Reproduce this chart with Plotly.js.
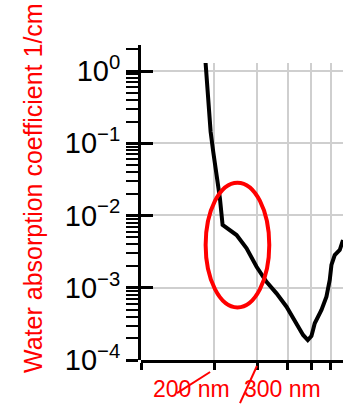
<!DOCTYPE html>
<html>
<head>
<meta charset="utf-8">
<script src="https://cdn.plot.ly/plotly-3.0.1.min.js"></script>
<style>
  html, body { margin: 0; padding: 0; background: #ffffff; }
  #chart { width: 357px; height: 404px; }
</style>
</head>
<body>
<div id="chart"></div>
<script>
// Absorption spectrum of liquid water, 1/cm, against wavelength in nm
const wavelengthNm = [184, 186, 188.7, 193.1, 197.9, 204.3, 210.8, 216.2, 225.8, 246.7,
  271.2, 298.1, 327.4, 359.8, 395.5, 434.6, 462.6, 483.6, 500.6, 508.2,
  516.5, 550.4, 576.9, 595.2, 604.8, 623.9, 654.1, 674.6];
const absorption = [1.33, 0.75, 0.338, 0.1445, 0.0764, 0.0364, 0.0173, 0.00739, 0.00665, 0.00537,
  0.00351, 0.00195, 0.00121, 0.000837, 0.000547, 0.000322, 0.000222, 0.000189, 0.000215, 0.00026,
  0.000322, 0.000492, 0.000752, 0.00128, 0.00207, 0.00284, 0.00333, 0.00458];

// Axis ticks
const xGridNm = [100, 200, 300, 400, 500, 600];
const yDecades = [1, 0.1, 0.01, 0.001, 0.0001];
const yDecadeLabels = ['10<sup>0</sup>', '10<sup>\u22121</sup>', '10<sup>\u22122</sup>',
  '10<sup>\u22123</sup>', '10<sup>\u22124</sup>'];

// Texts
const yTitle = 'Water absorption coefficient 1/cm';
const markLabels = ['200 nm', '300 nm'];

const red = '#ff0000';
const labelFont = { family: 'Liberation Sans, Arial, sans-serif', size: 29, color: '#000000' };

const xRange = [2, Math.log10(674.6)];
const yTop = 0.111;       // top of the gridded data area, log10 units
const yAxisTop = 0.36;    // top of the drawn axis line, log10 units
const gridTop = (yTop + 4) / (yAxisTop + 4);

const traces = [
  {
    x: wavelengthNm, y: absorption, xaxis: 'x', yaxis: 'y',
    type: 'scatter', mode: 'lines',
    line: { color: '#000000', width: 4 },
    hoverinfo: 'skip', showlegend: false
  },
  // carriers for the labelled axis and the inner half of its decade ticks
  { x: [], y: [], xaxis: 'x2', yaxis: 'y2', type: 'scatter', showlegend: false, hoverinfo: 'skip' },
  { x: [], y: [], xaxis: 'x2', yaxis: 'y3', type: 'scatter', showlegend: false, hoverinfo: 'skip' }
];

const layout = {
  width: 357, height: 404,
  margin: { l: 141, r: 14, t: 45, b: 44, pad: 0 },
  paper_bgcolor: '#ffffff', plot_bgcolor: 'rgba(0,0,0,0)',
  showlegend: false,
  xaxis: {
    type: 'log', range: xRange,
    domain: [0, 1], anchor: 'y',
    tickmode: 'array', tickvals: xGridNm, showticklabels: false,
    ticks: 'outside', ticklen: 7, tickwidth: 3, tickcolor: '#000000',
    showgrid: true, gridcolor: '#cfcfcf', gridwidth: 2,
    showline: true, linecolor: '#000000', linewidth: 3,
    zeroline: false
  },
  yaxis: {
    type: 'log', range: [-4, yTop],
    domain: [0, gridTop], anchor: 'x',
    tickmode: 'array', tickvals: yDecades.slice(0, 4),
    showticklabels: false, ticks: '',
    showgrid: true, gridcolor: '#cfcfcf', gridwidth: 2,
    showline: false, zeroline: false
  },
  xaxis2: {
    type: 'log', range: xRange, domain: [0, 1], anchor: 'y2',
    visible: false, showgrid: false, zeroline: false
  },
  yaxis2: {
    type: 'log', range: [-4, yAxisTop],
    domain: [0, 1], anchor: 'x2', side: 'left',
    tickmode: 'array', tickvals: yDecades, ticktext: yDecadeLabels,
    ticks: 'outside', ticklen: 12, tickwidth: 3, tickcolor: '#000000',
    tickfont: labelFont,
    minor: { tickmode: 'linear', dtick: 'D1', ticks: 'outside', ticklen: 12, tickwidth: 2,
             tickcolor: '#000000', showgrid: false },
    showgrid: false, showline: true, linecolor: '#000000', linewidth: 3,
    zeroline: false
  },
  yaxis3: {
    type: 'log', range: [-4, yAxisTop],
    overlaying: 'y2', anchor: 'x2', side: 'left',
    tickmode: 'array', tickvals: yDecades, showticklabels: false,
    ticks: 'inside', ticklen: 12, tickwidth: 3, tickcolor: '#000000',
    showgrid: false, showline: false, zeroline: false
  },
  shapes: [
    { type: 'circle', xref: 'paper', yref: 'paper', layer: 'above',
      x0: 0.320, x1: 0.635, y0: 0.167, y1: 0.563,
      line: { color: red, width: 4 } },
    { type: 'line', xref: 'paper', yref: 'paper', layer: 'above',
      x0: 0.178, y0: -0.105, x1: 0.342, y1: -0.038,
      line: { color: red, width: 2 } },
    { type: 'line', xref: 'paper', yref: 'paper', layer: 'above',
      x0: 0.490, y0: -0.137, x1: 0.574, y1: -0.019,
      line: { color: red, width: 2 } }
  ],
  annotations: [
    { text: yTitle, xref: 'paper', yref: 'paper', x: -0.535, y: 0.546,
      xanchor: 'center', yanchor: 'middle', textangle: -90, showarrow: false,
      borderpad: 0, font: { family: 'Liberation Sans, Arial, sans-serif', size: 25, color: red } },
    { text: markLabels[0], xref: 'paper', yref: 'paper', x: 0.053, y: -0.092,
      xanchor: 'left', yanchor: 'middle', showarrow: false, borderpad: 0,
      font: { family: 'Liberation Sans, Arial, sans-serif', size: 23, color: red } },
    { text: markLabels[1], xref: 'paper', yref: 'paper', x: 0.505, y: -0.092,
      xanchor: 'left', yanchor: 'middle', showarrow: false, borderpad: 0,
      font: { family: 'Liberation Sans, Arial, sans-serif', size: 23, color: red } }
  ]
};

Plotly.newPlot('chart', traces, layout, { staticPlot: true, displayModeBar: false })
  .catch(function (err) { setTimeout(function () { throw err; }, 0); });
</script>
</body>
</html>
